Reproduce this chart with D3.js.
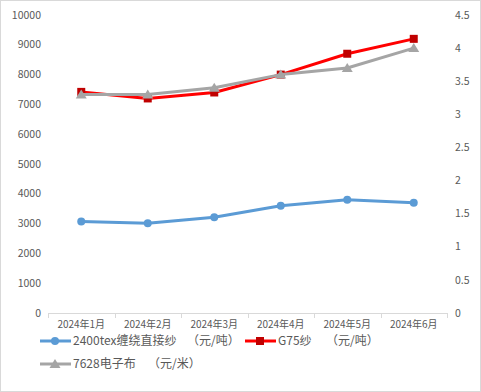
<!DOCTYPE html>
<html><head><meta charset="utf-8">
<script src="https://cdn.jsdelivr.net/npm/d3@7"></script>
<style>html,body{margin:0;padding:0;background:#fff;}svg{display:block;}</style>
</head><body>
<script>
const categories = ["2024年1月","2024年2月","2024年3月","2024年4月","2024年5月","2024年6月"];
const seriesNames = ["2400tex缠绕直接纱","G75纱","7628电子布"];
const seriesUnits = ["（元/吨）","（元/吨）","（元/米）"];
const roving2400 = [3070, 3010, 3210, 3600, 3800, 3700];
const g75 = [7420, 7200, 7400, 8000, 8700, 9200];
const cloth7628 = [3.3, 3.3, 3.4, 3.6, 3.7, 4.0];
const leftTicks = [0,1000,2000,3000,4000,5000,6000,7000,8000,9000,10000];
const rightTicks = [0,0.5,1,1.5,2,2.5,3,3.5,4,4.5];

const W = 481, H = 392;
const font = "'Noto Sans CJK SC','Noto Sans',sans-serif";
const svg = d3.select("body").append("svg").attr("width", W).attr("height", H);
svg.append("rect").attr("x",0.5).attr("y",0.5).attr("width",W-1).attr("height",H-1)
  .attr("fill","#fff").attr("stroke","#d9d9d9");

const x = d3.scaleBand().domain(categories).range([48, 447]);
const yL = d3.scaleLinear().domain([0,10000]).range([313, 15]);
const yR = d3.scaleLinear().domain([0,4.5]).range([313, 15]);
const txt = "#595959";

svg.append("g").selectAll("text").data(leftTicks).join("text")
  .attr("x", 41).attr("y", d => yL(d)).attr("dy","0.35em")
  .attr("text-anchor","end").attr("font-family",font).attr("font-size",10.5).attr("fill",txt)
  .text(d => d);
svg.append("g").selectAll("text").data(rightTicks).join("text")
  .attr("x", 455).attr("y", d => yR(d)).attr("dy","0.35em")
  .attr("text-anchor","start").attr("font-family",font).attr("font-size",10.5).attr("fill",txt)
  .text(d => d);

const xAxis = d3.axisBottom(x).tickSize(0).tickPadding(8);
const gx = svg.append("g").attr("transform","translate(0,313)").call(xAxis);
gx.select(".domain").attr("stroke","#d9d9d9").attr("d","M48,0.5H447");
gx.selectAll("text").attr("font-family",font).attr("font-size",10).attr("fill",txt);
const bounds = categories.map(c => x(c)).concat([x(categories[5]) + x.bandwidth()]);
gx.selectAll("line.b").data(bounds).join("line").attr("class","b")
  .attr("x1", d => Math.round(d)+0.5).attr("x2", d => Math.round(d)+0.5)
  .attr("y1", 0).attr("y2", 5).attr("stroke","#d9d9d9");

const cx = c => x(c) + x.bandwidth()/2;
function drawMarker(g, px, py, c, shape) {
  if (shape === "circle") g.append("circle").attr("cx",px).attr("cy",py).attr("r",4).attr("fill",c);
  else if (shape === "square") g.append("rect").attr("x",px-4).attr("y",py-4).attr("width",8).attr("height",8).attr("fill",c);
  else g.append("path").attr("d",`M${px},${py-5}L${px+5.5},${py+4}L${px-5.5},${py+4}Z`).attr("fill",c);
}
function drawLine(vals, y, color, markerColor, shape) {
  const line = d3.line().x((d,i)=>cx(categories[i])).y(d=>y(d));
  svg.append("path").datum(vals).attr("d", line).attr("fill","none")
    .attr("stroke", color).attr("stroke-width",3).attr("stroke-linejoin","round");
  const g = svg.append("g");
  vals.forEach((v,i) => drawMarker(g, cx(categories[i]), y(v), markerColor, shape));
}
drawLine(roving2400, yL, "#5B9BD5", "#5B9BD5", "circle");
drawLine(g75, yL, "#FF0000", "#C00000", "square");
drawLine(cloth7628, yR, "#A5A5A5", "#A5A5A5", "triangle");

const legend = [
  {i:0, x: 40, y: 341, ux: 187, color:"#5B9BD5", mc:"#5B9BD5", shape:"circle"},
  {i:1, x: 245, y: 341, ux: 326, color:"#FF0000", mc:"#C00000", shape:"square"},
  {i:2, x: 40, y: 364, ux: 148, color:"#A5A5A5", mc:"#A5A5A5", shape:"triangle"}
];
const lg = svg.append("g");
legend.forEach(l => {
  lg.append("line").attr("x1",l.x).attr("x2",l.x+31).attr("y1",l.y).attr("y2",l.y)
    .attr("stroke",l.color).attr("stroke-width",3);
  drawMarker(lg, l.x+15, l.y, l.mc, l.shape);
  lg.append("text").attr("x", l.x+33).attr("y", l.y).attr("dy","0.36em")
    .attr("font-family",font).attr("font-size",12).attr("fill",txt).text(seriesNames[l.i]);
  lg.append("text").attr("x", l.ux).attr("y", l.y).attr("dy","0.36em")
    .attr("font-family",font).attr("font-size",12).attr("fill",txt).text(seriesUnits[l.i]);
});
</script>
</body></html>
